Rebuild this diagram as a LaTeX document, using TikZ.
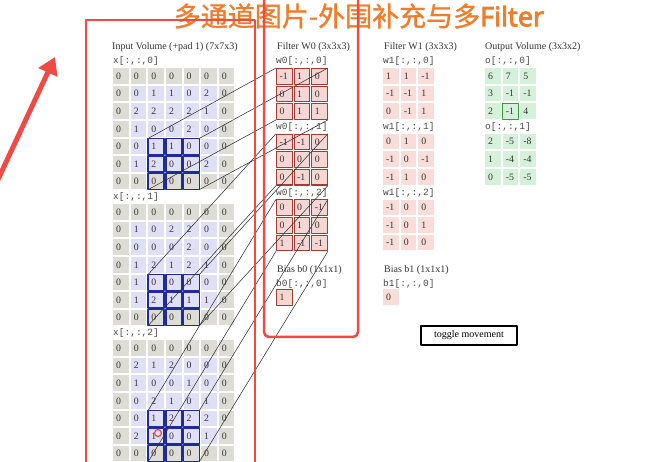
\documentclass[tikz,border=0pt]{standalone}
\usepackage{fontspec}
\setmainfont{Liberation Serif}
\setmonofont{Liberation Mono}
\newfontfamily\cjk[FakeBold=1.2]{Noto Sans CJK SC}
\newfontfamily\titlebold[FakeBold=3]{Noto Sans}
\usetikzlibrary{arrows.meta}
\definecolor{padgray}{HTML}{DEDDD5}
\definecolor{inblue}{HTML}{DFE0F6}
\definecolor{winblue}{HTML}{1F2A9E}
\definecolor{wfill}{HTML}{F6D6D2}
\definecolor{wline}{HTML}{A63A35}
\definecolor{wonefill}{HTML}{F8DDD9}
\definecolor{outfill}{HTML}{D6F1D9}
\definecolor{outgreen}{HTML}{3C9A45}
\definecolor{markred}{HTML}{F04A45}
\definecolor{titleorange}{HTML}{EF7D2C}
\definecolor{textgray}{HTML}{333333}
\definecolor{labgray}{HTML}{4A4A4A}
% one block of values: name, left, top, style, rows
\newcommand{\valgrid}[5]{%
  \foreach \row [count=\rr from 0] in {#5} {
    \foreach \v [count=\cc from 0] in \row {
      \node[#4] (#1-\rr-\cc) at ({#2+\cc*17.6},{#3+\rr*17.6}) {\v};
    }
  }%
}
\begin{document}
\begin{tikzpicture}[x=1pt, y=-1pt, font=\fontsize{9.8}{11}\selectfont, line join=round,
    cellbase/.style={anchor=north west, minimum size=15.6pt, inner xsep=3pt, inner ysep=0pt,
      text width=9.6pt, align=left, text=textgray},
    incell/.code={\pgfkeysalso{cellbase, fill=inblue}%
      \ifnum\rr=0 \pgfkeysalso{fill=padgray}\fi
      \ifnum\rr=6 \pgfkeysalso{fill=padgray}\fi
      \ifnum\cc=0 \pgfkeysalso{fill=padgray}\fi
      \ifnum\cc=6 \pgfkeysalso{fill=padgray}\fi},
    wcell/.style={cellbase, fill=wfill, draw=wline, line width=1.1pt},
    wonecell/.style={cellbase, fill=wonefill},
    outcell/.style={cellbase, fill=outfill},
    head/.style={anchor=west, inner sep=0pt, font=\fontsize{10}{12}\selectfont, text=textgray},
    lab/.style={anchor=west, inner sep=0pt, font=\ttfamily\fontsize{9.5}{11}\selectfont, text=labgray},
    winbox/.style={draw=winblue, line width=1.5pt},
    link/.style={draw=black!80, line width=0.55pt},
    redmark/.style={draw=markred, line width=2.5pt}]
  \useasboundingbox (0,0) rectangle (664,462);
  \clip (0,0) rectangle (664,462);
  \node[text=titleorange, inner sep=0pt, font=\fontsize{27}{30}\selectfont] (title) at (359,16)
    {\cjk 多通道图片-外围补充与多\titlebold Filter};

  % input volume
  \node[head] (inhead) at (112,47) {Input Volume (+pad 1) (7x7x3)};
  \node[lab] (x0lab) at (113,61) {x[:,:,0]};
  \valgrid{x0}{113}{68}{incell}{{0,0,0,0,0,0,0},{0,0,1,1,0,2,0},{0,2,2,2,2,1,0},{0,1,0,0,2,0,0},{0,0,1,1,0,0,0},{0,1,2,0,0,2,0},{0,0,0,0,0,0,0}}
  \node[lab] (x1lab) at (113,197) {x[:,:,1]};
  \valgrid{x1}{113}{204}{incell}{{0,0,0,0,0,0,0},{0,1,0,2,2,0,0},{0,0,0,0,2,0,0},{0,1,2,1,2,1,0},{0,1,0,0,0,0,0},{0,1,2,1,1,1,0},{0,0,0,0,0,0,0}}
  \node[lab] (x2lab) at (113,333) {x[:,:,2]};
  \valgrid{x2}{113}{340}{incell}{{0,0,0,0,0,0,0},{0,2,1,2,0,0,0},{0,1,0,0,1,0,0},{0,0,2,1,0,1,0},{0,0,1,2,2,2,0},{0,2,1,0,0,1,0},{0,0,0,0,0,0,0}}

  % filter W0
  \node[head] (f0head) at (277,47) {Filter W0 (3x3x3)};
  \node[lab] (f0d0lab) at (276,61) {w0[:,:,0]};
  \valgrid{f0d0}{276}{68}{wcell}{{-1,1,0},{0,1,0},{0,1,1}}
  \node[lab] (f0d1lab) at (276,127) {w0[:,:,1]};
  \valgrid{f0d1}{276}{133.7}{wcell}{{-1,-1,0},{0,0,0},{0,-1,0}}
  \node[lab] (f0d2lab) at (276,193) {w0[:,:,2]};
  \valgrid{f0d2}{276}{199.4}{wcell}{{0,0,-1},{0,1,0},{1,-1,-1}}
  \node[head] (b0head) at (277,270) {Bias b0 (1x1x1)};
  \node[lab] (b0lab) at (276,284) {b0[:,:,0]};
  \valgrid{b0}{276}{289}{wcell}{{1}}

  % filter W1
  \node[head] (f1head) at (384,47) {Filter W1 (3x3x3)};
  \node[lab] (f1d0lab) at (383,61) {w1[:,:,0]};
  \valgrid{f1d0}{383}{68}{wonecell}{{1,1,-1},{-1,-1,1},{0,-1,1}}
  \node[lab] (f1d1lab) at (383,127) {w1[:,:,1]};
  \valgrid{f1d1}{383}{133.7}{wonecell}{{0,1,0},{-1,0,-1},{-1,1,0}}
  \node[lab] (f1d2lab) at (383,193) {w1[:,:,2]};
  \valgrid{f1d2}{383}{199.4}{wonecell}{{-1,0,0},{-1,0,1},{-1,0,0}}
  \node[head] (b1head) at (384,270) {Bias b1 (1x1x1)};
  \node[lab] (b1lab) at (383,284) {b1[:,:,0]};
  \valgrid{b1}{383}{289}{wonecell}{{0}}

  % output volume
  \node[head] (outhead) at (485,47) {Output Volume (3x3x2)};
  \node[lab] (o0lab) at (485,61) {o[:,:,0]};
  \valgrid{o0}{485}{68}{outcell}{{6,7,5},{3,-1,-1},{2,-1,4}}
  \node[lab] (o1lab) at (485,127) {o[:,:,1]};
  \valgrid{o1}{485}{133.7}{outcell}{{2,-5,-8},{1,-4,-4},{0,-5,-5}}
  \draw[draw=outgreen, line width=1.3pt] (o0-2-1.north west) rectangle (o0-2-1.south east);

  % current window and its links to W0
  \foreach \d in {0,1,2} {
    \foreach \rr in {4,5,6}
      \foreach \cc in {2,3,4}
        \draw[winbox] (x\d-\rr-\cc.north west) rectangle (x\d-\rr-\cc.south east);
    \draw[link] (x\d-4-2.north west) -- (f0d\d-0-0.north west);
    \draw[link] (x\d-4-4.north east) -- (f0d\d-0-2.north east);
    \draw[link] (x\d-6-2.south west) -- (f0d\d-2-0.south west);
    \draw[link] (x\d-6-4.south east) -- (f0d\d-2-2.south east);
  }

  \node[draw=black, line width=1.3pt, minimum width=96pt, minimum height=19pt,
    font=\fontsize{10}{12}\selectfont] (toggle) at (469,335.5) {toggle movement};

  % marks drawn over the page
  \draw[redmark] (86,475) -- (86,20) -- (255,20) -- (255,475);
  \draw[redmark, rounded corners=5pt] (264,-10) -- (264,337) -- (358,337) -- (358,-10);
  \coordinate (arrtail) at (-6,188);
  \coordinate (arrtip) at (55,57);
  \draw[redmark, line width=5pt, -{Triangle[length=17pt,width=20pt]}] (arrtail) -- (arrtip);
  \node[circle, draw=markred, line width=1.2pt, minimum size=7pt, inner sep=0pt] (clickmark) at (158,433) {};
\end{tikzpicture}
\end{document}
